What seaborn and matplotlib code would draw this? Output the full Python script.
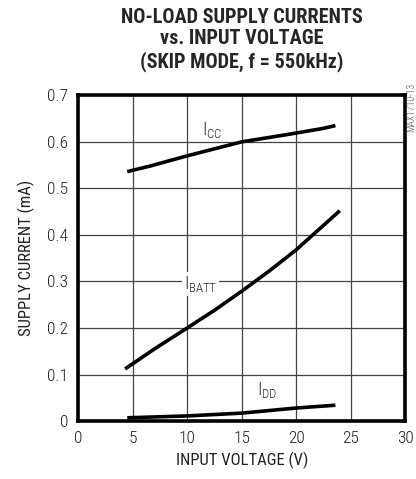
import matplotlib
matplotlib.use("Agg")
import pandas as pd
import seaborn as sns
import matplotlib.pyplot as plt

# data
v_cc = [4.5, 6.6, 10, 15, 19, 22.5, 23.6]
i_cc = [0.536, 0.548, 0.570, 0.600, 0.615, 0.629, 0.635]

v_batt = [4.3, 7, 10, 12.5, 15, 17.5, 20, 22, 24]
i_batt = [0.112, 0.155, 0.200, 0.238, 0.279, 0.322, 0.368, 0.410, 0.452]

v_dd = [4.5, 10, 15, 20, 23.6]
i_dd = [0.007, 0.011, 0.017, 0.028, 0.034]

x_ticks = [0, 5, 10, 15, 20, 25, 30]
y_ticks = [0, 0.1, 0.2, 0.3, 0.4, 0.5, 0.6, 0.7]
y_tick_labels = ["0", "0.1", "0.2", "0.3", "0.4", "0.5", "0.6", "0.7"]

sns.set_style("white")
plt.rcParams["font.family"] = ["Roboto Condensed", "DejaVu Sans"]
plt.rcParams["font.weight"] = "light"
plt.rcParams["mathtext.fontset"] = "custom"
plt.rcParams["mathtext.rm"] = "Roboto Condensed:weight=light"

df = pd.concat([
    pd.DataFrame({"v": v_cc, "i": i_cc, "s": "cc"}),
    pd.DataFrame({"v": v_batt, "i": i_batt, "s": "batt"}),
    pd.DataFrame({"v": v_dd, "i": i_dd, "s": "dd"}),
])

fig = plt.figure(figsize=(4.16, 4.79), dpi=100)
ax = fig.add_axes([0.188, 0.121, 0.786, 0.680])

for name in ["cc", "batt", "dd"]:
    sns.lineplot(data=df[df.s == name], x="v", y="i", color="black",
                 linewidth=2.6, ax=ax, zorder=3, solid_capstyle="butt")

ax.set_xlim(0, 30)
ax.set_ylim(0, 0.7)
ax.set_xticks(x_ticks)
ax.set_yticks(y_ticks)
ax.set_yticklabels(y_tick_labels)
ax.tick_params(length=0, labelsize=12.5, pad=7, colors="#222222")
ax.grid(True, color="#444444", linewidth=0.9)
for sp in ax.spines.values():
    sp.set_linewidth(2.6)
    sp.set_color("black")
    sp.set_zorder(4)

ax.set_xlabel("INPUT VOLTAGE (V)", fontsize=12, color="#222222", labelpad=4)
ax.set_ylabel("SUPPLY CURRENT (mA)", fontsize=12, color="#222222", labelpad=9)

ax.text(12.3, 0.625, r"I$_{\mathrm{CC}}$", fontsize=13, ha="center", va="center")
ax.text(11.2, 0.295, r"I$_{\mathrm{BATT}}$", fontsize=13, ha="center", va="center",
        bbox=dict(facecolor="white", edgecolor="none", pad=1.5), zorder=2.5)
ax.text(17.3, 0.067, r"I$_{\mathrm{DD}}$", fontsize=13, ha="center", va="center")

fig.text(0.582, 0.984, "NO-LOAD SUPPLY CURRENTS\nvs. INPUT VOLTAGE\n(SKIP MODE, f = 550kHz)",
         ha="center", va="top", fontsize=14.6, fontweight="black", linespacing=1.18)
fig.text(0.988, 0.828, "MAX1710-13", rotation=90, ha="center", va="top",
         fontsize=7, color="#555555")

fig.savefig("out.png", dpi=100)
